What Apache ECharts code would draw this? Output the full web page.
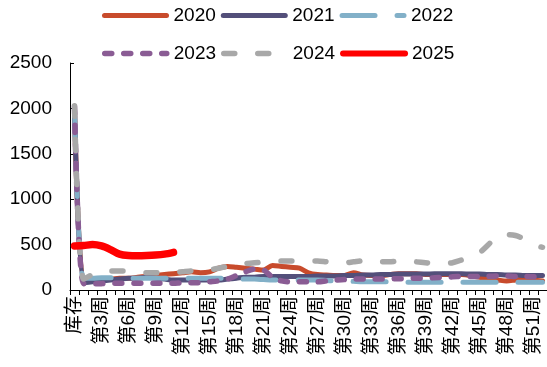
<!DOCTYPE html>
<html>
<head>
<meta charset="utf-8">
<script src="https://cdn.jsdelivr.net/npm/echarts@6/dist/echarts.min.js"></script>
<style>
  html, body { margin: 0; padding: 0; background: #fff; }
  #chart { width: 547px; height: 367px; }
</style>
</head>
<body>
<div id="chart"></div>
<script>
// x categories: inventory + weeks
const weeks = ['库存',
  '第1周', '第2周', '第3周', '第4周', '第5周', '第6周', '第7周', '第8周', '第9周', '第10周',
  '第11周', '第12周', '第13周', '第14周', '第15周', '第16周', '第17周', '第18周', '第19周', '第20周',
  '第21周', '第22周', '第23周', '第24周', '第25周', '第26周', '第27周', '第28周', '第29周', '第30周',
  '第31周', '第32周', '第33周', '第34周', '第35周', '第36周', '第37周', '第38周', '第39周', '第40周',
  '第41周', '第42周', '第43周', '第44周', '第45周', '第46周', '第47周', '第48周', '第49周', '第50周',
  '第51周', '第52周'];

const yearNames = ['2020', '2021', '2022', '2023', '2024', '2025'];

const y2020 = [2000, 100, 110, 120, 120, 130, 130, 140, 150, 160, 170, 180, 190, 200, 190, 200, 240, 260, 250, 240,
  230, 220, 270, 260, 250, 240, 190, 170, 165, 160, 160, 190, 165, 160, 160, 170, 180, 180, 180, 170,
  170, 170, 170, 170, 160, 140, 120, 110, 100, 110, 120, 110, 100];
const y2021 = [2010, 80, 90, 100, 110, 120, 130, 130, 140, 130, 120, 110, 110, 110, 110, 110, 110, 120, 130, 140,
  140, 150, 150, 150, 150, 150, 150, 155, 155, 155, 160, 160, 165, 165, 170, 170, 175, 175, 175, 175,
  180, 180, 180, 180, 175, 175, 170, 170, 165, 165, 160, 160, 160];
const y2022 = [2000, 130, 130, 135, 135, 135, 130, 130, 130, 130, 130, 130, 130, 130, 130, 130, 130, 130, 125, 120,
  120, 115, 110, 110, 110, 110, 110, 110, 105, 100, 100, 95, 90, 90, 90, 90, 90, 85, 85, 85,
  85, 85, 85, 85, 85, 85, 85, 85, 85, 85, 85, 85, 85];
const y2023 = [2020, 70, 70, 70, 75, 75, 75, 75, 75, 75, 75, 75, 80, 80, 80, 90, 100, 120, 160, 200,
  230, 220, 140, 100, 90, 90, 90, 90, 100, 110, 115, 120, 120, 120, 120, 120, 125, 125, 130, 130,
  135, 140, 145, 150, 150, 150, 150, 155, 155, 150, 150, 145, 140];
const y2024 = [2030, 120, 170, 200, 210, 210, 210, 200, 190, 190, 180, 190, 200, 210, 210, 220, 240, 260, 280, 290,
  300, 310, 320, 320, 320, 320, 320, 320, 310, 300, 300, 310, 320, 320, 310, 310, 320, 320, 310, 300,
  290, 290, 300, 330, 360, 410, 500, 600, 610, 600, 560, 500, 470];
const y2025 = [485, 490, 500, 485, 445, 395, 380, 378, 380, 385, 395, 415];

const FONT = "'Liberation Sans', Arial, 'Noto Sans CJK SC', sans-serif";

let chart = echarts.init(document.getElementById('chart'), null, {renderer: 'canvas'});

let looks = {
  '2020': {color: '#C84B2C', width: 5, dash: 'solid'},
  '2021': {color: '#534F7A', width: 5, dash: 'solid'},
  '2022': {color: '#82B0C8', width: 5, dash: [33, 22]},
  '2023': {color: '#8A5C94', width: 5.5, dash: [7, 12]},
  '2024': {color: '#A8A8A8', width: 5.5, dash: [11, 23]},
  '2025': {color: '#FF0000', width: 7.5, dash: 'solid'}
};

function makeLine(name, data) {
  let s = looks[name];
  return {
    name: name,
    type: 'line',
    data: data,
    smooth: 0.3,
    symbol: 'circle',
    showSymbol: false,
    itemStyle: {color: s.color},
    lineStyle: {color: s.color, width: s.width, type: s.dash, cap: 'round', join: 'round'},
    emphasis: {disabled: true},
    animation: false
  };
}

function legendBox(names, top) {
  return {
    data: names.map(function (n) {
      return {name: n, lineStyle: {width: Math.min(looks[n].width, 6), type: looks[n].dash, cap: 'round'}};
    }),
    left: 102,
    top: top,
    orient: 'horizontal',
    itemWidth: 62,
    itemHeight: 20,
    itemGap: 5,
    padding: 0,
    selectedMode: false,
    itemStyle: {opacity: 0},
    textStyle: {fontSize: 19, color: '#000', fontFamily: FONT, padding: [0, 0, 0, 2]}
  };
}

let option = {
  backgroundColor: '#fff',
  animation: false,
  legend: [
    legendBox(yearNames.slice(0, 3), 6),
    legendBox(yearNames.slice(3), 44)
  ],
  grid: {left: 70, right: 0, top: 63, bottom: 77, containLabel: false},
  xAxis: {
    type: 'category',
    data: weeks,
    boundaryGap: true,
    axisLine: {lineStyle: {color: '#000', width: 1}},
    axisTick: {show: true, interval: 0, length: 5, lineStyle: {color: '#000'}},
    axisLabel: {
      interval: 2,
      rotate: 90,
      margin: 6,
      color: '#000',
      fontSize: 19,
      fontFamily: FONT
    },
    splitLine: {show: false}
  },
  yAxis: {
    type: 'value',
    min: 0,
    max: 2500,
    interval: 500,
    axisLine: {show: true, lineStyle: {color: '#000', width: 1}},
    axisTick: {show: true, inside: true, length: 4, lineStyle: {color: '#000'}},
    axisLabel: {
      margin: 18, color: '#000', fontSize: 19, fontFamily: FONT,
      formatter: function (v) { return String(v); }
    },
    splitLine: {show: false}
  },
  series: [
    makeLine('2020', y2020),
    makeLine('2021', y2021),
    makeLine('2022', y2022),
    makeLine('2023', y2023),
    makeLine('2024', y2024),
    makeLine('2025', y2025)
  ]
};

option && chart.setOption(option);
</script>
</body>
</html>
